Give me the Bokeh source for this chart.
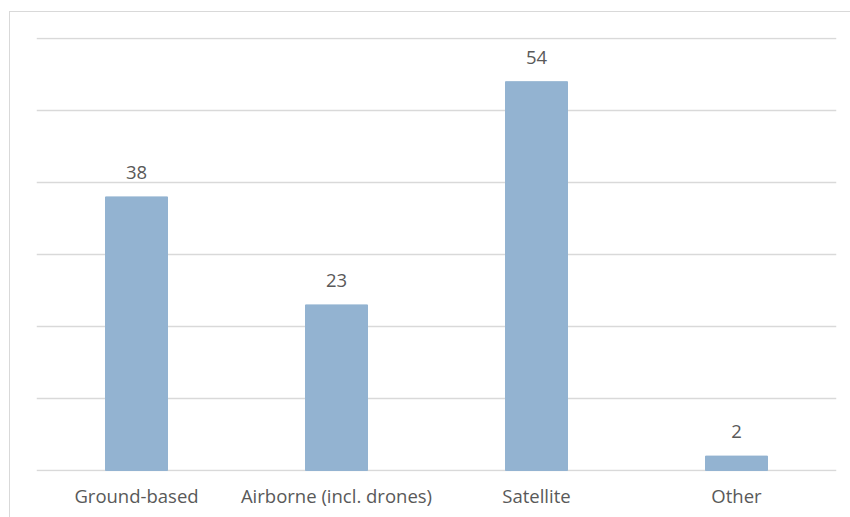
from bokeh.plotting import figure
from bokeh.models import ColumnDataSource, FactorRange, Range1d, FixedTicker, InlineStyleSheet
from bokeh.core.properties import value
from bokeh.embed import file_html
from bokeh.resources import INLINE

categories = ["Ground-based", "Airborne (incl. drones)", "Satellite", "Other"]
counts = [38, 23, 54, 2]
y_ticks = [0, 10, 20, 30, 40, 50, 60]

FONT = "Open Sans"
TEXT_COLOR = "#595959"
BAR_COLOR = "#93b3d1"
GRID_COLOR = "#d9d9d9"

source = ColumnDataSource(data=dict(cat=categories, n=counts, lbl=[str(v) for v in counts]))

# 7.2 px per unit; one extra pixel on each side keeps the 0 and 60 gridlines visible
pad = 1 / 7.2

# light chart-area border, open to the right and bottom
border_css = InlineStyleSheet(css="""
:host { position: relative; overflow: hidden; }
:host::after {
  content: "";
  position: absolute;
  left: 9px; top: 11px; width: 900px; height: 600px;
  border: 1.5px solid #d9d9d9;
  pointer-events: none;
}
""")

p = figure(
    width=850, height=517,
    x_range=FactorRange(*categories, range_padding=0),
    y_range=Range1d(-pad, 60 + pad),
    output_backend="svg", toolbar_location=None,
    min_border_left=36, min_border_right=14,
    min_border_top=37, min_border_bottom=46,
    stylesheets=[border_css],
)
p.outline_line_color = None
p.background_fill_color = "white"
p.border_fill_color = "white"

p.vbar(x="cat", top="n", width=0.31, source=source, color=BAR_COLOR)

p.text(x="cat", y="n", text="lbl", source=source,
       text_font=value(FONT), text_font_size="18.5px", text_color=TEXT_COLOR,
       text_align="center", text_baseline="bottom", y_offset=-18)

p.yaxis.visible = False
p.ygrid.ticker = FixedTicker(ticks=y_ticks)
p.ygrid.grid_line_color = GRID_COLOR
p.ygrid.grid_line_width = 1.5
p.xgrid.grid_line_color = None

ax = p.xaxis[0]
ax.axis_line_color = None
ax.major_tick_line_color = None
ax.minor_tick_line_color = None
ax.major_label_text_font = FONT
ax.major_label_text_font_size = "18.5px"
ax.major_label_text_color = TEXT_COLOR
ax.major_label_standoff = 5

open("out.html", "w").write(file_html(p, INLINE))
